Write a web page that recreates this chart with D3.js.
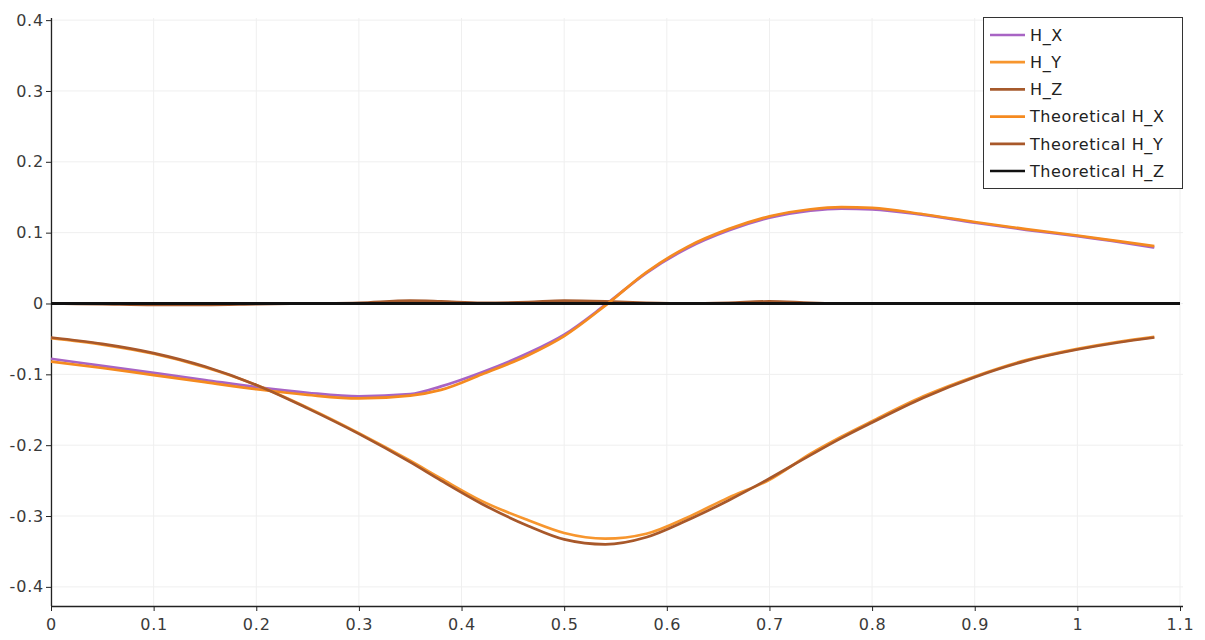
<!DOCTYPE html>
<html>
<head>
<meta charset="utf-8">
<script src="https://cdn.jsdelivr.net/npm/d3@7"></script>
<style>
  html, body { margin: 0; padding: 0; background: #fff; }
  svg { display: block; }
  text { font-family: "DejaVu Sans", sans-serif; }
</style>
</head>
<body>
<svg id="chart" width="1205" height="640"></svg>
<script>
// ---- data ----
const xs = [0, 0.05, 0.1, 0.15, 0.2, 0.25, 0.3, 0.35, 0.38, 0.42, 0.465, 0.5, 0.54, 0.58, 0.62, 0.66, 0.7, 0.74, 0.77, 0.8, 0.85, 0.9, 0.95, 1.0, 1.04, 1.075];
const simHX = [-0.078, -0.088, -0.098, -0.108, -0.118, -0.126, -0.131, -0.128, -0.117, -0.097, -0.070, -0.044, -0.002, 0.043, 0.078, 0.103, 0.121, 0.131, 0.134, 0.133, 0.125, 0.114, 0.104, 0.095, 0.087, 0.079];
const simHY = [-0.049, -0.058, -0.071, -0.090, -0.115, -0.147, -0.183, -0.222, -0.247, -0.279, -0.306, -0.324, -0.332, -0.325, -0.302, -0.274, -0.249, -0.212, -0.188, -0.166, -0.131, -0.103, -0.080, -0.064, -0.054, -0.047];
const simHZ = [0, -0.001, -0.002, -0.002, -0.001, 0, 0.001, 0.004, 0.003, 0.001, 0.002, 0.004, 0.003, 0.001, 0, 0.001, 0.003, 0.001, 0, 0, 0, 0, 0, 0, 0, 0];
const theoHX = [-0.082, -0.091, -0.101, -0.111, -0.121, -0.129, -0.134, -0.130, -0.122, -0.100, -0.073, -0.046, -0.003, 0.044, 0.080, 0.105, 0.123, 0.133, 0.136, 0.135, 0.126, 0.115, 0.105, 0.096, 0.088, 0.081];
const theoHY = [-0.048, -0.057, -0.070, -0.089, -0.115, -0.148, -0.184, -0.224, -0.250, -0.283, -0.314, -0.333, -0.340, -0.330, -0.306, -0.278, -0.247, -0.214, -0.190, -0.168, -0.133, -0.104, -0.081, -0.065, -0.055, -0.048];
const xsZ = [0, 1.1];
const theoHZ = [0, 0];

const xTicks = [0, 0.1, 0.2, 0.3, 0.4, 0.5, 0.6, 0.7, 0.8, 0.9, 1, 1.1];
const yTicks = [-0.4, -0.3, -0.2, -0.1, 0, 0.1, 0.2, 0.3, 0.4];

const seriesNames = ["H_X", "H_Y", "H_Z", "Theoretical H_X", "Theoretical H_Y", "Theoretical H_Z"];
const seriesColors = ["#a864c4", "#f7962e", "#a65a2c", "#f58a1f", "#a8582a", "#111111"];

// ---- layout ----
const svg = d3.select("#chart");
const x = d3.scaleLinear().domain([0, 1.1]).range([51, 1180]);
const y = d3.scaleLinear().domain([-0.427, 0.403]).range([606, 18]);

// grid
const grid = svg.append("g");
grid.selectAll("line.v").data(xTicks).join("line")
  .attr("x1", d => x(d)).attr("x2", d => x(d))
  .attr("y1", y.range()[0]).attr("y2", y.range()[1])
  .attr("stroke", "#efefef").attr("stroke-width", 1);
grid.selectAll("line.h").data(yTicks).join("line")
  .attr("x1", 51).attr("x2", 1183)
  .attr("y1", d => y(d)).attr("y2", d => y(d))
  .attr("stroke", "#efefef").attr("stroke-width", 1);

// axes
const fmt = d => String(+d.toFixed(1));
const xAxis = d3.axisBottom(x).tickValues(xTicks).tickSize(5).tickSizeOuter(0).tickFormat(fmt);
const yAxis = d3.axisLeft(y).tickValues(yTicks).tickSize(5).tickSizeOuter(0).tickFormat(fmt);

const gx = svg.append("g").attr("transform", "translate(0,606)").call(xAxis);
const gy = svg.append("g").attr("transform", "translate(51,0)").call(yAxis);
[gx, gy].forEach(g => {
  g.select(".domain").attr("stroke", "#222").attr("stroke-width", 1.3);
  g.selectAll(".tick line").attr("stroke", "#222");
  g.selectAll(".tick text").attr("fill", "#3a3a3a")
    .style("font-size", "16px").style("letter-spacing", "0.8px");
});
gx.select(".domain").attr("d", "M51,0.5H1183");
gy.select(".domain").attr("d", "M0.5,18V606");
gx.selectAll(".tick text").attr("dy", "1.0em");
gy.selectAll(".tick text").attr("x", -7);

// lines
const line = d3.line().x(d => x(d[0])).y(d => y(d[1])).curve(d3.curveMonotoneX);
const series = [
  {xs: xs, ys: simHX},
  {xs: xs, ys: simHY},
  {xs: xs, ys: simHZ},
  {xs: xs, ys: theoHX},
  {xs: xs, ys: theoHY},
  {xs: xsZ, ys: theoHZ}
];
const plot = svg.append("g");
series.forEach((s, i) => {
  plot.append("path")
    .datum(s.xs.map((v, k) => [v, s.ys[k]]))
    .attr("d", line)
    .attr("fill", "none")
    .attr("stroke", seriesColors[i])
    .attr("stroke-width", i === 5 ? 3 : 2.7)
    .attr("stroke-linejoin", "round");
});

// legend
const lg = svg.append("g");
lg.append("rect").attr("x", 983.5).attr("y", 17.5).attr("width", 199).attr("height", 171)
  .attr("fill", "#fff").attr("stroke", "#333").attr("stroke-width", 1);
const rowY = d3.scaleLinear().domain([0, 5]).range([35, 171]);
seriesNames.forEach((name, i) => {
  lg.append("line").attr("x1", 990).attr("x2", 1025)
    .attr("y1", rowY(i)).attr("y2", rowY(i))
    .attr("stroke", seriesColors[i]).attr("stroke-width", 2.7);
  lg.append("text").attr("x", 1030).attr("y", rowY(i)).attr("dy", "0.36em")
    .attr("fill", "#222").style("font-size", "16px").style("letter-spacing", "0.6px").text(name);
});
</script>
</body>
</html>
